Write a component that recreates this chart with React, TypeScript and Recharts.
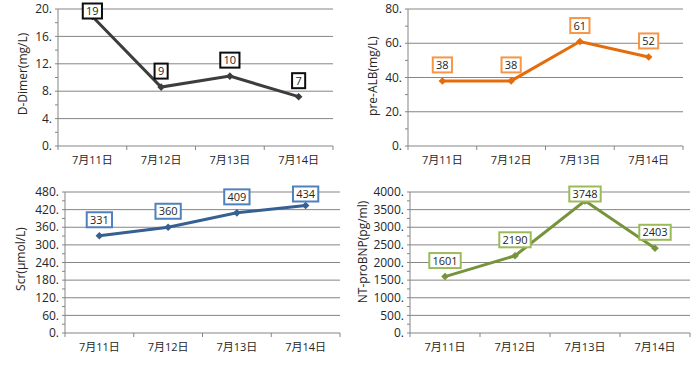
import React from "react";
import { LineChart, Line, XAxis, YAxis, ReferenceLine, LabelList } from "recharts";

const categories = ["7月11日", "7月12日", "7月13日", "7月14日"];

const dDimerValues = [18.9, 8.6, 10.2, 7.2];
const preAlbValues = [38, 38, 61, 52];
const scrValues = [331, 360, 409, 434];
const ntProBnpValues = [1601, 2190, 3748, 2403];

const dDimerTicks = [0, 4, 8, 12, 16, 20];
const preAlbTicks = [0, 20, 40, 60, 80];
const scrTicks = [0, 60, 120, 180, 240, 300, 360, 420, 480];
const ntProBnpTicks = [0, 500, 1000, 1500, 2000, 2500, 3000, 3500, 4000];

const FONT = '"Open Sans", "Noto Sans CJK SC", sans-serif';
const GRID = "#858585";
const TEXT = "#262626";

interface PanelConf {
  name: string;
  values: number[];
  ticks: number[];
  left: number;
  top: number;
  width: number;
  height: number;
  marginTop: number;
  marginRight: number;
  yWidth: number;
  xHeight: number;
  labelX: number;
  labelY: number;
  lineColor: string;
  boxColor: string;
}

const panels: PanelConf[] = [
  {
    name: "D-Dimer(mg/L)",
    values: dDimerValues,
    ticks: dDimerTicks,
    left: 0,
    top: 0,
    width: 350,
    height: 180,
    marginTop: 9,
    marginRight: 17,
    yWidth: 58,
    xHeight: 34,
    labelX: 22,
    labelY: 74,
    lineColor: "#3d3d3d",
    boxColor: "#0d0d0d",
  },
  {
    name: "pre-ALB(mg/L)",
    values: preAlbValues,
    ticks: preAlbTicks,
    left: 350,
    top: 0,
    width: 350,
    height: 180,
    marginTop: 9,
    marginRight: 17,
    yWidth: 58,
    xHeight: 34,
    labelX: 22,
    labelY: 76,
    lineColor: "#e46c0a",
    boxColor: "#f79646",
  },
  {
    name: "Scr(μmol/L)",
    values: scrValues,
    ticks: scrTicks,
    left: 0,
    top: 180,
    width: 350,
    height: 187,
    marginTop: 12,
    marginRight: 10,
    yWidth: 65,
    xHeight: 34,
    labelX: 20,
    labelY: 79,
    lineColor: "#376092",
    boxColor: "#4f81bd",
  },
  {
    name: "NT-proBNP(pg/ml)",
    values: ntProBnpValues,
    ticks: ntProBnpTicks,
    left: 350,
    top: 180,
    width: 350,
    height: 187,
    marginTop: 12,
    marginRight: 10,
    yWidth: 60,
    xHeight: 34,
    labelX: 12,
    labelY: 72,
    lineColor: "#77933c",
    boxColor: "#9bbb59",
  },
];

const Diamond = (props: any) => {
  const { cx, cy, fill } = props;
  if (cx == null || cy == null) return null;
  const r = 3.8;
  return (
    <path
      d={`M${cx},${cy - r}L${cx + r},${cy}L${cx},${cy + r}L${cx - r},${cy}Z`}
      fill={fill}
    />
  );
};

const Panel = ({ p }: { p: PanelConf }) => {
  const data = p.values.map((v, i) => ({ x: i + 0.5, v }));
  const n = categories.length;
  // ticks at category boundaries (integers) and labels at centres (halves)
  const xTicks: number[] = [];
  for (let i = 0; i <= n * 2; i++) xTicks.push(i / 2);
  // minor ticks half way between the labelled ones
  const yTicks: number[] = [];
  p.ticks.forEach((t, i) => {
    yTicks.push(t);
    if (i < p.ticks.length - 1) yTicks.push((t + p.ticks[i + 1]) / 2);
  });
  const majors = new Set(p.ticks);
  const yMax = p.ticks[p.ticks.length - 1];

  const renderXTick = (props: any) => {
    const { x, y, payload } = props;
    const v = payload.value;
    if (Number.isInteger(v)) {
      return <line x1={x} y1={y} x2={x} y2={y + 4} stroke={GRID} />;
    }
    return (
      <text x={x} y={y + 18} textAnchor="middle" fontSize={11} fill={TEXT} fontFamily={FONT}>
        {categories[Math.floor(v)]}
      </text>
    );
  };

  const renderYTick = (props: any) => {
    const { x, y, payload } = props;
    if (!majors.has(payload.value)) return <g />;
    return (
      <text x={x} y={y} dy={4.2} textAnchor="end" fontSize={12} fill={TEXT} fontFamily={FONT}>
        {payload.value + "."}
      </text>
    );
  };

  const renderBox = (props: any) => {
    const { x, y, value } = props;
    if (x == null || y == null) return null;
    const txt = String(Math.round(value));
    const w = txt.length * 6.1 + 7;
    const h = 15;
    const cy = Math.max(y - 16, p.marginTop + 2);
    return (
      <g>
        <rect x={x - w / 2} y={cy - h / 2} width={w} height={h} fill="#ffffff" stroke={p.boxColor} strokeWidth={2} />
        <text x={x} y={cy} dy={4} textAnchor="middle" fontSize={11} fill={TEXT} fontFamily={FONT}>
          {txt}
        </text>
      </g>
    );
  };

  return (
    <div style={{ position: "absolute", left: p.left, top: p.top }}>
      <LineChart
        width={p.width}
        height={p.height}
        data={data}
        margin={{ top: p.marginTop, right: p.marginRight, bottom: 0, left: 0 }}
      >
        <XAxis
          type="number"
          dataKey="x"
          domain={[0, n]}
          ticks={xTicks}
          interval={0}
          height={p.xHeight}
          tickLine={false}
          tickSize={0}
          tickMargin={0}
          axisLine={{ stroke: GRID }}
          tick={renderXTick}
        />
        <YAxis
          type="number"
          domain={[0, yMax]}
          ticks={yTicks}
          interval={0}
          width={p.yWidth}
          tickSize={3}
          tickMargin={3}
          tickLine={{ stroke: GRID }}
          axisLine={{ stroke: GRID }}
          tick={renderYTick}
          label={{
            content: () => (
              <text
                x={p.labelX}
                y={p.labelY}
                transform={`rotate(-90 ${p.labelX} ${p.labelY})`}
                textAnchor="middle"
                dominantBaseline="central"
                fontSize={12}
                fill={TEXT}
                fontFamily={FONT}
              >
                {p.name}
              </text>
            ),
          }}
        />
        {p.ticks
          .filter((t) => t > 0)
          .map((t) => (
            <ReferenceLine key={t} y={t} stroke={GRID} strokeWidth={1} />
          ))}
        <Line
          type="linear"
          dataKey="v"
          stroke={p.lineColor}
          strokeWidth={3}
          fill={p.lineColor}
          dot={<Diamond fill={p.lineColor} />}
          activeDot={false}
          isAnimationActive={false}
        >
          <LabelList dataKey="v" content={renderBox} />
        </Line>
      </LineChart>
    </div>
  );
};

export default function App() {
  return (
    <div
      style={{
        position: "absolute",
        left: 0,
        top: 0,
        width: 700,
        height: 367,
        background: "#ffffff",
        fontFamily: FONT,
      }}
    >
      {panels.map((p) => (
        <Panel key={p.name} p={p} />
      ))}
    </div>
  );
}
